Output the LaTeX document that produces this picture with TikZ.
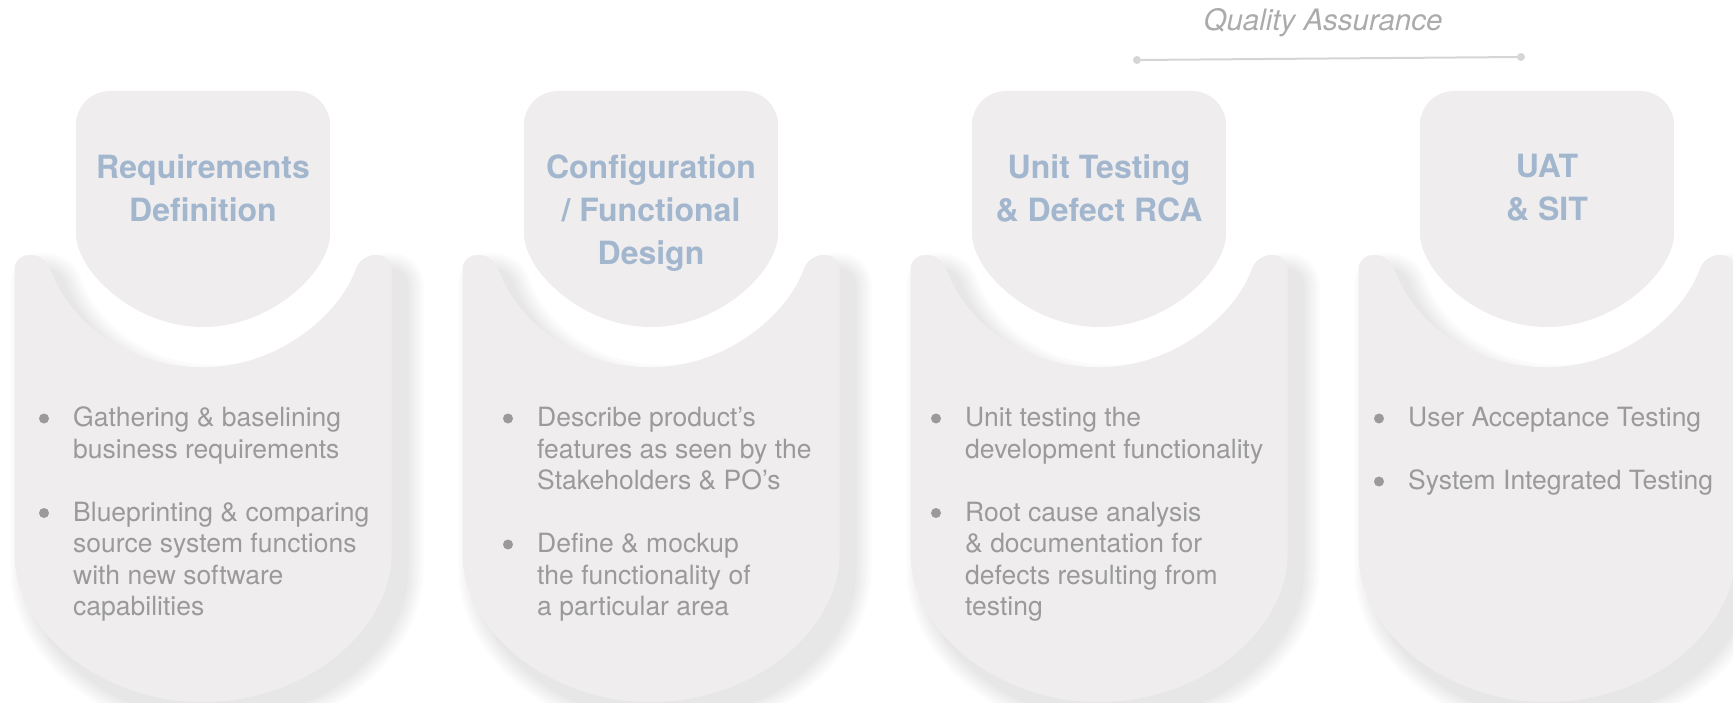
\documentclass[tikz,border=0pt]{standalone}
\usepackage{fontspec}
\setmainfont{TeX Gyre Heros}
\usetikzlibrary{positioning}
\definecolor{cardgray}{HTML}{EFEDEE}
\definecolor{titleblue}{HTML}{A2B6CE}
\definecolor{textgray}{HTML}{9A9A9A}
\definecolor{qagray}{HTML}{ABABAB}
\definecolor{linegray}{HTML}{D5D5D5}

% card outlines, local to the card centre (y grows downwards)
\newcommand{\headpath}{(-127,150) -- (-127,91) -- (127,91) -- (127,200) arc[start angle=0,end angle=180,radius=127] -- cycle}
\newcommand{\bodypath}{(-188.5,400) -- (-188.5,255) -- (-157.7,255) arc[start angle=160.8,end angle=19.2,radius=167] -- (188.5,255) -- (188.5,540) arc[start angle=0,end angle=180,x radius=188.5,y radius=162] -- cycle}

\begin{document}
\begin{tikzpicture}[x=1pt,y=-1pt,
    title/.style={anchor=north,align=center,inner sep=0,text=titleblue,font={\fontsize{32}{43}\selectfont\bfseries}},
    item/.style={anchor=north west,align=left,inner sep=0,text=textgray,font={\fontsize{26.5}{31.5}\selectfont}},
    dot/.style={circle,fill=textgray,inner sep=0,minimum size=10pt},
    qadot/.style={circle,fill=linegray,inner sep=0,minimum size=8pt}]
    \useasboundingbox (0,0) rectangle (1733,703);
    \clip (0,0) rectangle (1733,703);
    % Cards
    \foreach \cx in {203,651,1099,1547} {
        \begin{scope}[xshift=\cx]
            \foreach \w in {36,30,24,18,12,6} {
                \begin{scope}[transparency group,opacity=0.016]
                    \filldraw[black,line width=\w pt,line join=round,rounded corners=14pt,shift={(14,16)}] \bodypath;
                \end{scope}
            }
            \fill[cardgray,rounded corners=14pt] \bodypath;
            \fill[cardgray,rounded corners=34pt] \headpath;
        \end{scope}
    }
    % Titles
    \node[title] (t1) at (203,154) {Requirements\\Definition};
    \node[title] (t2) at (651,154) {Configuration\\/ Functional\\Design};
    \node[title] (t3) at (1099,154) {Unit Testing\\\& Defect RCA};
    \node[title] (t4) at (1547,154) {UAT\\\& SIT};
    % Bullet texts
    \node[item] (b1a) at (73,407) {Gathering \& baselining\\business requirements};
    \node[item] (b1b) at (73,501.5) {Blueprinting \& comparing\\source system functions\\with new software\\capabilities};
    \node[item] (b2a) at (537,407) {Describe product’s\\features as seen by the\\Stakeholders \& PO’s};
    \node[item] (b2b) at (537,533) {Define \& mockup\\the functionality of\\a particular area};
    \node[item] (b3a) at (965,407) {Unit testing the\\development functionality};
    \node[item] (b3b) at (965,501.5) {Root cause analysis\\\& documentation for\\defects resulting from\\testing};
    \node[item] (b4a) at (1408,407) {User Acceptance Testing};
    \node[item] (b4b) at (1408,470) {System Integrated Testing};
    \foreach \b in {b1a,b1b,b2a,b2b,b3a,b3b,b4a,b4b}
        \node[dot] (d-\b) at ([xshift=-29pt,yshift=-11.5pt]\b.north west) {};
    % Quality assurance span
    \node[anchor=base,inner sep=0,text=qagray,font={\fontsize{29.5}{34}\selectfont\itshape}] (qa) at (1323,31) {Quality Assurance};
    \node[qadot] (qal) at (1137,60) {};
    \node[qadot] (qar) at (1521,57) {};
    \draw[linegray,line width=2pt] (qal) -- (qar);
\end{tikzpicture}
\end{document}
